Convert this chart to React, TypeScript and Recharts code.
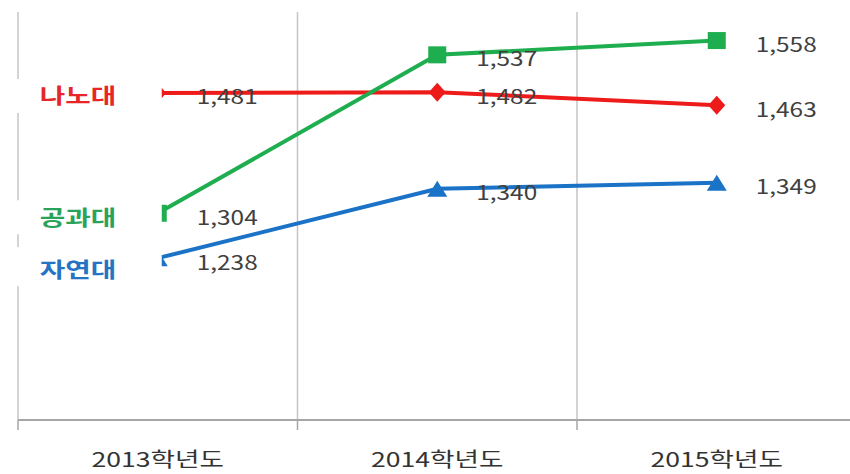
import { LineChart, Line, XAxis, YAxis, ReferenceLine } from 'recharts';

const categories = ['2013학년도', '2014학년도', '2015학년도'];
const nano = [1481, 1482, 1463];
const eng = [1304, 1537, 1558];
const sci = [1238, 1340, 1349];

const series = [
  { key: 'nano', name: '나노대', color: '#ee1b1b', text: '#e8262a', shape: 'diamond', nameDy: 3 },
  { key: 'eng', name: '공과대', color: '#1fae4f', text: '#2aa35a', shape: 'square', nameDy: 4 },
  { key: 'sci', name: '자연대', color: '#1a73c6', text: '#2574c4', shape: 'triangle', nameDy: 11 },
];

// one row per school year, placed in the middle of its band
const data = categories.map((cat, i) => ({ pos: i + 0.5, cat, nano: nano[i], eng: eng[i], sci: sci[i] }));
const bounds = categories.map((_, i) => i);
const ticks = [...categories.map((_, i) => [i, i + 0.5]).flat(), categories.length];

const FONT = '"Noto Sans CJK KR", "Noto Sans", sans-serif';

const WideText = ({ x, y, size, fill, weight, anchor, sx, children }: any) => (
  <g transform={`translate(${x},${y}) scale(${sx || 1.22},1)`}>
    <text x={0} y={0} fontSize={size} fill={fill} fontWeight={weight || 'normal'}
      textAnchor={anchor || 'start'} fontFamily={FONT}>{children}</text>
  </g>
);

const makeDot = (shape: string, color: string) => (props: any) => {
  const { cx, cy, index } = props;
  if (cx == null || cy == null) return null;
  if (shape === 'square')
    return <rect key={index} x={cx - 9} y={cy - 8.5} width={18} height={17} fill={color} />;
  if (shape === 'diamond')
    return <polygon key={index} fill={color}
      points={`${cx},${cy - 9.5} ${cx + 8.5},${cy} ${cx},${cy + 9.5} ${cx - 8.5},${cy}`} />;
  return <polygon key={index} fill={color}
    points={`${cx},${cy - 8} ${cx + 10},${cy + 8} ${cx - 10},${cy + 8}`} />;
};

const makeLabel = (s: any) => (props: any) => {
  const x = props.x ?? props.viewBox?.x;
  const y = props.y ?? props.viewBox?.y;
  const idx = props.index;
  if (x == null || y == null) return null;
  // white box behind the series name hides the left part of the first marker
  const top = y + Math.min(s.nameDy - 17, -11);
  const bottom = y + s.nameDy + 17;
  return (
    <g key={`${s.key}-${idx}`}>
      {idx === 0 && (
        <>
          <rect x={x - 146} y={top} width={150} height={bottom - top} fill="#fff" />
          <WideText x={x - 118} y={y + s.nameDy + 7.5} size={21} sx={1.32} fill={s.text} weight="bold">{s.name}</WideText>
        </>
      )}
      <WideText x={x + 39} y={y + 11.5} size={20} fill="#404040">
        {Number(props.value).toLocaleString('en-US')}
      </WideText>
    </g>
  );
};

const AxisTick = (props: any) => {
  const { x, y, payload } = props;
  const v = payload.value;
  if (Number.isInteger(v))
    return <line x1={x} x2={x} y1={y} y2={y + 10} stroke="#a6a6a6" strokeWidth={1.5} />;
  return (
    <WideText x={x} y={y + 47} size={20} sx={1.33} fill="#333" anchor="middle">
      {categories[Math.floor(v)]}
    </WideText>
  );
};

export default function App() {
  return (
    <div style={{ position: 'absolute', left: 0, top: 0, width: 850, height: 474, overflow: 'hidden', background: '#fff' }}>
      <LineChart width={860} height={474} data={data} margin={{ top: 12, right: 3.5, left: 18, bottom: 0 }}>
        <XAxis dataKey="pos" type="number" domain={[0, categories.length]} ticks={ticks} interval={0}
          height={54} tickSize={0} tickMargin={0} tick={<AxisTick />} tickLine={false}
          axisLine={{ stroke: '#a6a6a6', strokeWidth: 2 }} />
        <YAxis type="number" domain={[1000, 1600]} hide />
        {bounds.map(b => (
          <ReferenceLine key={b} x={b} stroke="#c4c4c4" strokeWidth={1.5} />
        ))}
        {series.map(s => (
          <Line key={s.key} dataKey={s.key} type="linear" stroke={s.color} strokeWidth={4}
            dot={makeDot(s.shape, s.color)} activeDot={false} label={makeLabel(s)}
            isAnimationActive={false} />
        ))}
      </LineChart>
    </div>
  );
}
